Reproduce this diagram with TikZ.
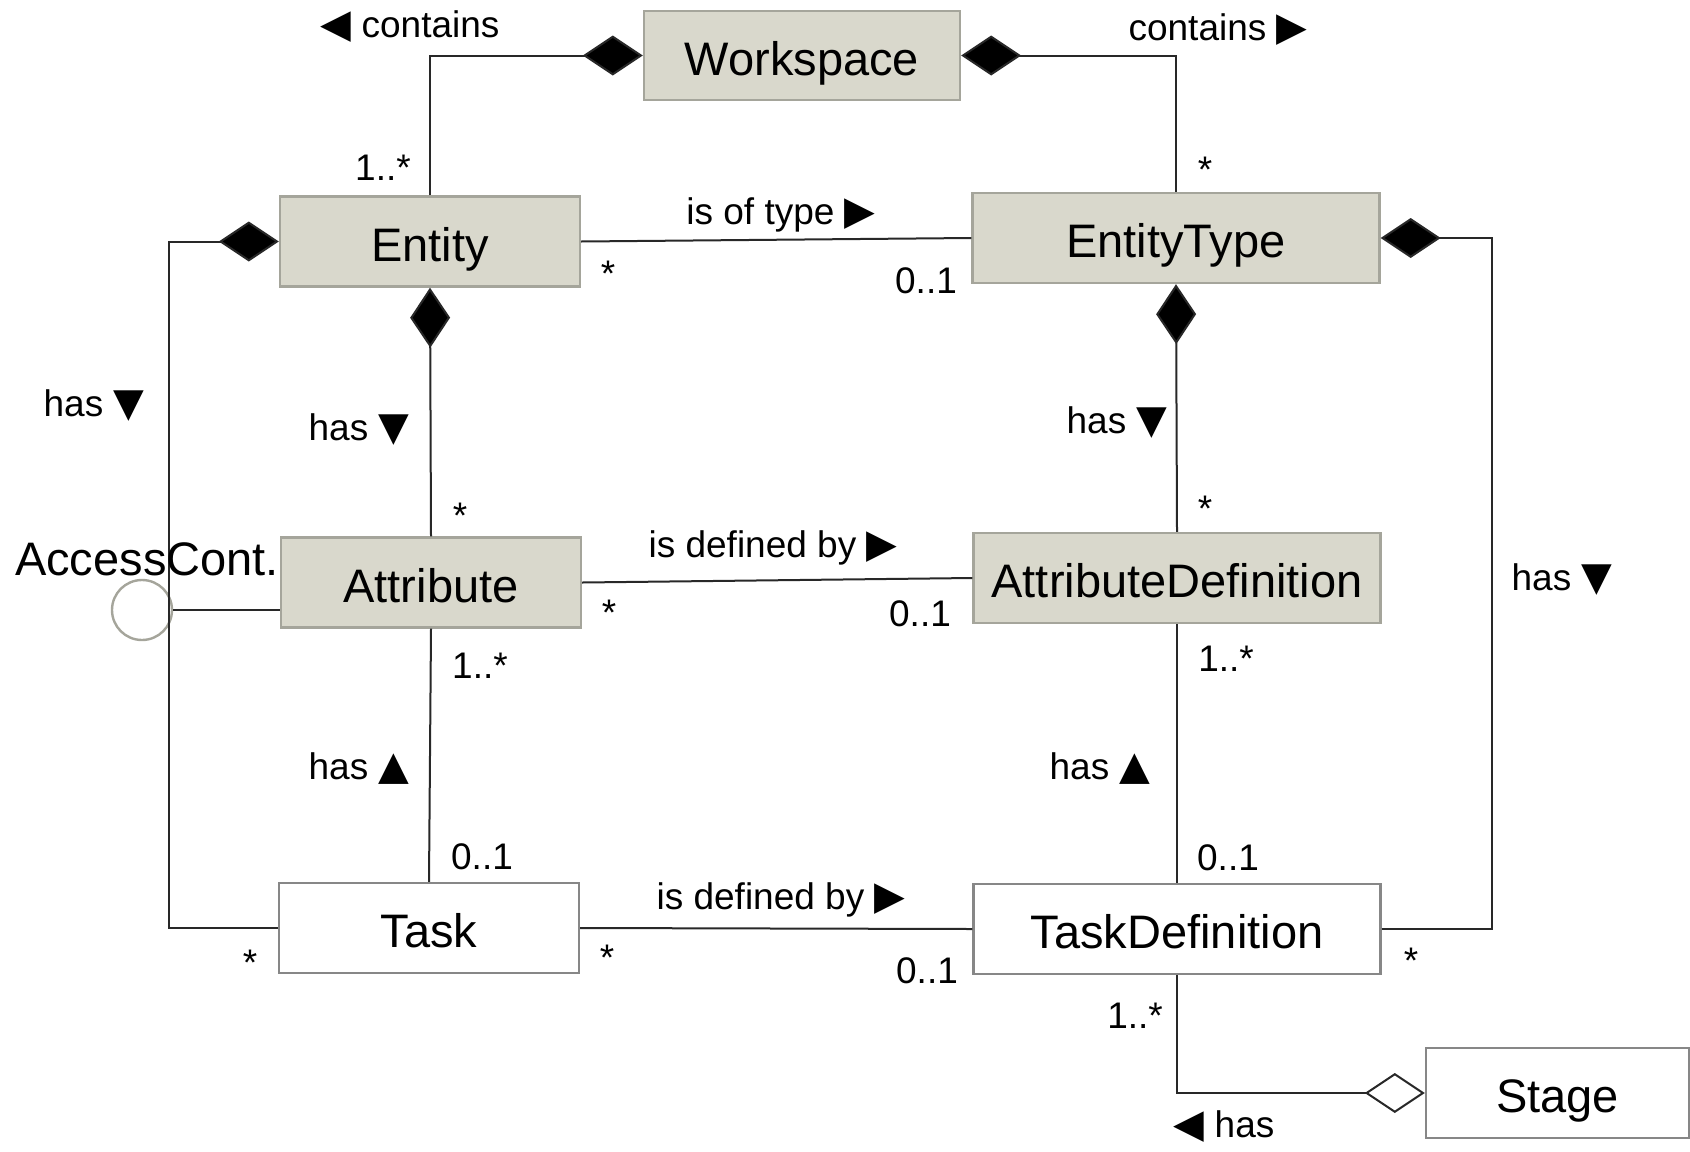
\documentclass[tikz,border=0pt]{standalone}
\usepackage{fontspec}
\setmainfont{Liberation Sans}
\newfontfamily\trifont{DejaVu Sans}
\newcommand{\tR}{{\trifont\fontsize{20}{22}\selectfont ▶}}
\newcommand{\tL}{{\trifont\fontsize{20}{22}\selectfont ◀}}
\newcommand{\tD}{{\trifont\fontsize{20}{22}\selectfont ▼}}
\newcommand{\tU}{{\trifont\fontsize{20}{22}\selectfont ▲}}
\usetikzlibrary{arrows.meta}
\definecolor{boxfill}{RGB}{217,216,204}
\definecolor{boxline}{RGB}{165,165,155}
\definecolor{wline}{RGB}{135,135,135}
\definecolor{connc}{RGB}{40,40,40}
\begin{document}
\begin{tikzpicture}[x=0.5pt,y=-0.5pt,
  beige/.style={draw=boxline, fill=boxfill, line width=1.2pt, minimum height=45pt, inner sep=0pt, text height=19.5pt, text depth=0pt, font=\fontsize{23.5}{28}\selectfont},
  plain/.style={draw=wline, fill=white, line width=1.2pt, minimum height=45pt, inner sep=0pt, text height=19.5pt, text depth=0pt, font=\fontsize{23.5}{28}\selectfont},
  conn/.style={draw=connc, line width=1pt},
  comp/.style={-{Diamond[length=30pt,width=20pt,fill=black]}},
  agg/.style={-{Diamond[length=30pt,width=20pt,fill=white]}},
  lab/.style={font=\fontsize{18.5}{22}\selectfont, inner sep=0pt, yshift=-1.3pt}]
\useasboundingbox (0,0) rectangle (1690,1151);
% classes
\node[beige, minimum width=158pt, minimum height=44.5pt] (ws) at (802,55.5) {Workspace};
\node[beige, minimum width=150pt] (ent) at (430,241.5) {Entity};
\node[beige, minimum width=203.5pt] (et) at (1176,238) {EntityType};
\node[beige, minimum width=150pt] (att) at (431,582.5) {Attribute};
\node[beige, minimum width=203.5pt] (ad) at (1177,578) {AttributeDefinition};
\node[plain, minimum width=150pt] (task) at (429,928) {Task};
\node[plain, minimum width=203.5pt] (td) at (1177,929) {TaskDefinition};
\node[plain, minimum width=131.5pt] (st) at (1557.5,1093) {Stage};
\node[circle, draw=boxline, line width=1.2pt, minimum size=30pt, inner sep=0pt] (ac) at (142,610) {};
\coordinate (L) at (169,0);
\coordinate (R) at (1492,0);
% connectors
\draw[conn, comp] (ent.north) |- (ws.west);
\draw[conn, comp] (et.north) |- (ws.east);
\draw[conn] (ent.east) -- (et.west);
\draw[conn, comp] (att.north) -- (ent.south);
\draw[conn, comp] (ad.north) -- (et.south);
\draw[conn] (att.east) -- (ad.west);
\draw[conn] (task.north) -- (att.south);
\draw[conn] (td.north) -- (ad.south);
\draw[conn] (task.east) -- (td.west);
\draw[conn, comp] (task.west) -- (task.west -| L) -- (L |- ent.west) -- (ent.west);
\draw[conn] (ac.east) -- (att.west |- ac.east);
\draw[conn, comp] (td.east) -- (td.east -| R) -- (R |- et.east) -- (et.east);
\draw[conn, agg] (td.south) |- (st.west);
% labels
\node[lab] (l1) at (410,24) {\tL\ contains};
\node[lab] (l2) at (1218,27) {contains \tR};
\node[lab] (l3) at (383,165) {1..*};
\node[lab] (l4) at (1205,167) {*};
\node[lab] (l5) at (781,212) {is of type \tR};
\node[lab] (l6) at (608,271) {*};
\node[lab] (l7) at (926,278) {0..1};
\node[lab] (l8) at (359,427) {has \tD};
\node[lab] (l9) at (460,513) {*};
\node[lab] (l10) at (1117,420) {has \tD};
\node[lab] (l11) at (1205,506) {*};
\node[lab] (l12) at (773,545) {is defined by \tR};
\node[lab] (l13) at (609,610) {*};
\node[lab] (l14) at (920,611) {0..1};
\node[lab] (l15) at (480,663) {1..*};
\node[lab] (l16) at (359,766) {has \tU};
\node[lab] (l17) at (482,854) {0..1};
\node[lab] (l18) at (1226,656) {1..*};
\node[lab] (l19) at (1100,766) {has \tU};
\node[lab] (l20) at (1228,855) {0..1};
\node[lab] (l21) at (781,897) {is defined by \tR};
\node[lab] (l22) at (607,955) {*};
\node[lab] (l23) at (927,968) {0..1};
\node[lab] (l24) at (94,403) {has \tD};
\node[lab] (l25) at (250,960) {*};
\node[lab] (l26) at (1562,577) {has \tD};
\node[lab] (l27) at (1411,958) {*};
\node[lab] (l28) at (1135,1013) {1..*};
\node[lab, yshift=1.3pt] (l29) at (1224,1127) {\tL\ has};
\node[font=\fontsize{23.5}{28}\selectfont, inner sep=0pt] (acl) at (147,559) {AccessCont.};
\end{tikzpicture}
\end{document}
